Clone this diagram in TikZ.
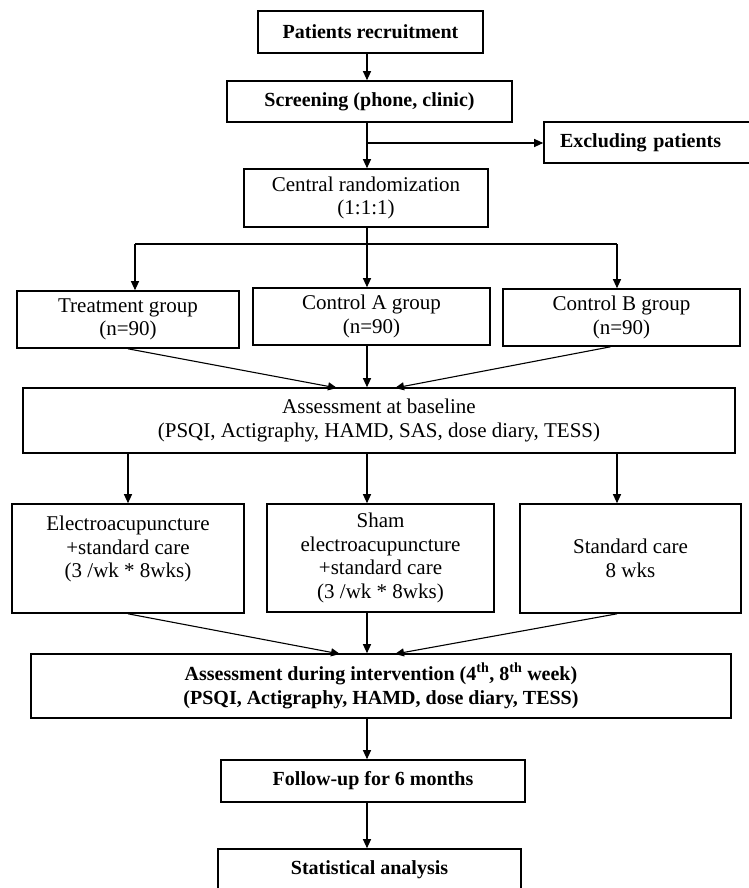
\documentclass[tikz,border=0pt]{standalone}
\usepackage{fontspec}
\setmainfont{Liberation Serif}
\usetikzlibrary{arrows.meta,calc}
\begin{document}
\begin{tikzpicture}[x=1pt,y=-1pt,
  box/.style={draw, line width=1.6pt, inner sep=0pt, align=center,
              font=\fontsize{21pt}{23.5pt}\selectfont},
  bbox/.style={box, font=\fontsize{20pt}{24pt}\selectfont\bfseries},
  conn/.style={line width=1.1pt},
  arr/.style={conn, -{Triangle[length=9pt,width=8pt]}}]
\useasboundingbox (0,0) rectangle (748,888);

% nodes
\node[bbox, minimum width=225pt, minimum height=42pt] (rec) at (370.5,32) {Patients recruitment};
\node[bbox, minimum width=285pt, minimum height=41pt] (scr) at (369.5,101.5) {Screening (phone, clinic)};
\node[bbox, minimum height=41pt, text width=176pt, inner xsep=16pt, align=left] (exc) at (648,142.5) {Excluding patients};
\node[box, minimum width=244pt, minimum height=58pt] (cen) at (366,198) {Central randomization\\(1:1:1)};
\node[box, minimum width=222pt, minimum height=57pt] (trt) at (128,319.5) {Treatment group\\(n=90)};
\node[box, minimum width=237pt, minimum height=57pt] (ca) at (371.5,316.5) {Control A group\\(n=90)};
\node[box, minimum width=237pt, minimum height=57pt] (cb) at (621.5,317.5) {Control B group\\(n=90)};
\node[box, minimum width=712pt, minimum height=65pt] (base) at (379,420.5) {Assessment at baseline\\(PSQI, Actigraphy, HAMD, SAS, dose diary, TESS)};
\node[box, minimum width=232pt, minimum height=109pt] (el) at (128,558.5) {Electroacupuncture\\+standard care\\(3 /wk * 8wks)\\~};
\node[box, minimum width=227pt, minimum height=108pt] (sh) at (380.5,558) {Sham\\electroacupuncture\\+standard care\\(3 /wk * 8wks)};
\node[box, minimum width=221pt, minimum height=109pt] (sd) at (630.5,558.5) {Standard care\\8 wks};
\node[bbox, minimum width=700pt, minimum height=64pt] (ad) at (381,686) {Assessment during intervention (4\textsuperscript{th}, 8\textsuperscript{th} week)\\(PSQI, Actigraphy, HAMD, dose diary, TESS)};
\node[bbox, minimum width=304pt, minimum height=42pt] (fu) at (373,781) {Follow-up for 6 months};
\node[bbox, minimum width=303pt, minimum height=42pt] (sa) at (369.5,870) {Statistical analysis};

% helper coordinates
\coordinate (sp1) at (367,143);
\coordinate (br)  at (367,244);
\coordinate (brL) at (135,244);
\coordinate (brR) at (617,244);
\coordinate (b1) at (337,388);
\coordinate (b3) at (395,388);
\coordinate (d1) at (340,654);
\coordinate (d3) at (395,654);

% connectors
\draw[arr] (rec.south -| sp1) -- (scr.north -| sp1);
\draw[arr] (scr.south -| sp1) -- (cen.north -| sp1);
\draw[arr] (sp1) -- (sp1 -| exc.west);
\draw[conn] (cen.south -| br) -- (br);
\draw[conn] (brL) -- (brR);
\draw[arr] (brL) -- (brL |- trt.north);
\draw[arr] (br) -- (br |- ca.north);
\draw[arr] (brR) -- (brR |- cb.north);

\draw[arr] (trt.south) -- (b1);
\draw[arr] (ca.south -| br) -- (base.north -| br);
\draw[arr] ($(cb.south)+(-11,0)$) -- (b3);

\draw[arr] (base.south -| el.north) -- (el.north);
\draw[arr] (base.south -| br) -- (sh.north -| br);
\draw[arr] (base.south -| brR) -- (sd.north -| brR);

\draw[arr] (el.south) -- (d1);
\draw[arr] (sh.south -| br) -- (ad.north -| br);
\draw[arr] (sd.south -| brR) -- (d3);

\draw[arr] (ad.south -| br) -- (fu.north -| br);
\draw[arr] (fu.south -| br) -- (sa.north -| br);
\end{tikzpicture}
\end{document}
